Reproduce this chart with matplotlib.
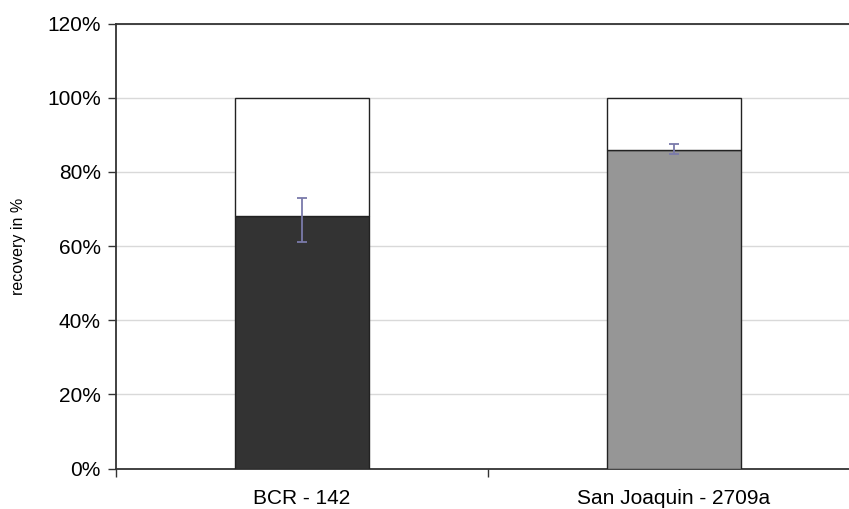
import matplotlib
matplotlib.use("Agg")
import matplotlib.pyplot as plt
import numpy as np

categories = ["BCR - 142", "San Joaquin - 2709a"]
recovery = [68, 86]
remainder = [32, 14]
err_low = [7, 1.3]
err_high = [5, 1.6]
bar_colors = ["#333333", "#969696"]
yticks = [0, 20, 40, 60, 80, 100, 120]

plt.rcParams['font.family'] = ['Liberation Sans', 'DejaVu Sans']

fig = plt.figure(figsize=(8.49, 5.09), dpi=100)
W, H = 849, 509
ax = fig.add_axes([116 / W, 1 - 468.5 / H, (860 - 116) / W, (468.5 - 23.5) / H])

x = np.arange(len(categories))
width = 0.36
ax.bar(x, recovery, width, color=bar_colors, edgecolor="#222222", linewidth=1.0, zorder=3)
ax.bar(x, remainder, width, bottom=recovery, color="white", edgecolor="#222222", linewidth=1.0, zorder=3)
ax.errorbar(x, recovery, yerr=[err_low, err_high], fmt="none", ecolor="#7a7aaa",
            elinewidth=1.3, capsize=3.5, capthick=1.3, zorder=4)

ax.set_xlim(-0.5, 1.5)
ax.set_ylim(0, 120)
ax.set_yticks(yticks)
ax.set_yticklabels([f"{v}%" for v in yticks], fontsize=15)
ax.yaxis.grid(True, color="#d9d9d9", linewidth=1.0, zorder=0)
ax.set_axisbelow(True)

ax.set_xticks(x)
ax.set_xticklabels(categories, fontsize=15)
ax.tick_params(axis="x", which="major", length=0, pad=15)
ax.set_xticks([-0.5, 0.5, 1.5], minor=True)
ax.tick_params(axis="x", which="minor", length=6, color="#333333", width=1)
ax.tick_params(axis="y", length=6, color="#333333", width=1, pad=5)

for s in ["left", "bottom", "top", "right"]:
    ax.spines[s].set_color("#333333")
    ax.spines[s].set_linewidth(1.3)

ax.set_ylabel("recovery in %", fontsize=11.5)
ax.yaxis.set_label_coords((26 - 116) / (860 - 116), 0.5)

fig.savefig("out.png", dpi=100)
